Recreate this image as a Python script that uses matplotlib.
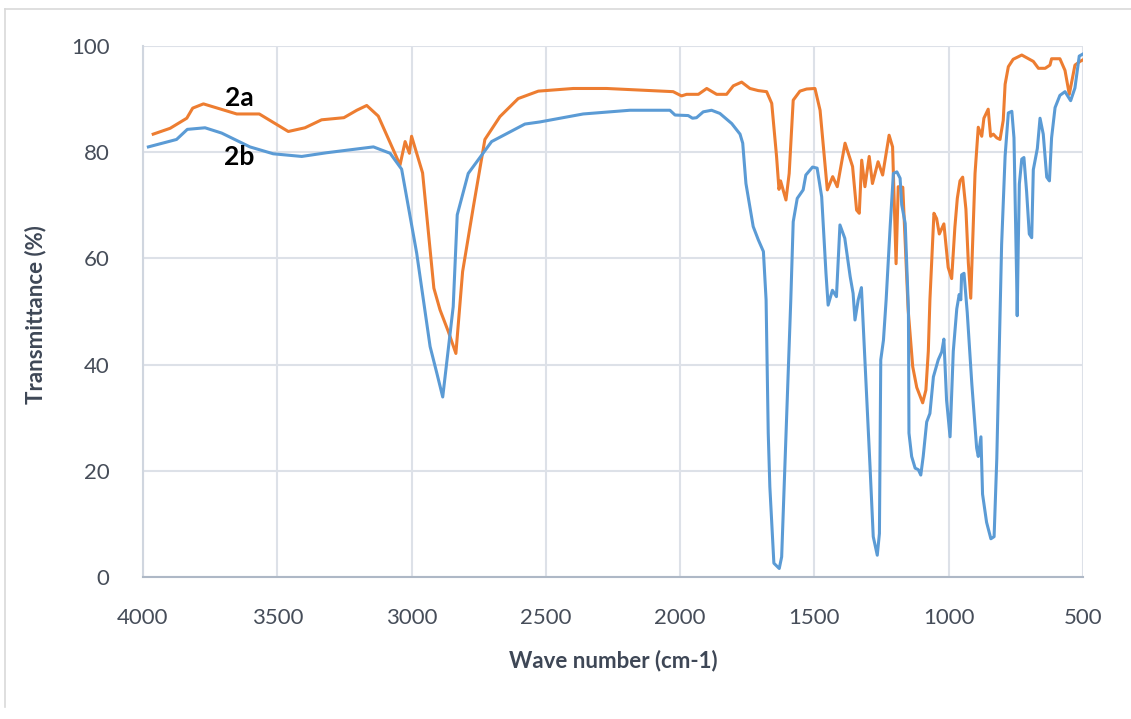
import matplotlib
matplotlib.use('Agg')
import matplotlib.pyplot as plt
from matplotlib.lines import Line2D

# FT-IR spectra (wave number in cm-1, transmittance in %)
wn_2a = [3962, 3899, 3837, 3815, 3775, 3651, 3567, 3459, 3397, 3335, 3252, 3204, 3167, 3124,
         3043, 3024, 3008, 3000, 2959, 2917, 2894, 2863, 2835, 2810, 2770, 2727, 2671, 2603,
         2528, 2398, 2274, 2026, 1995, 1976, 1932, 1901, 1864, 1827, 1802, 1771, 1740, 1709,
         1678, 1659, 1641, 1632, 1626, 1606, 1594, 1579, 1554, 1529, 1498, 1479, 1461, 1452,
         1432, 1415, 1386, 1358, 1343, 1333, 1324, 1312, 1296, 1284, 1263, 1246, 1222, 1209,
         1196, 1188, 1171, 1151, 1134, 1119, 1097, 1085, 1076, 1070, 1055, 1045, 1035, 1018,
         1002, 989, 977, 968, 958, 948, 936, 927, 918, 902, 890, 877, 869, 853, 844, 834, 821,
         809, 797, 790, 778, 760, 728, 685, 666, 641, 623, 617, 586, 567, 551, 530, 511, 500]
t_2a = [83.4, 84.5, 86.4, 88.3, 89.1, 87.2, 87.2, 83.9, 84.6, 86.1, 86.5, 87.9, 88.8, 86.8,
        77.6, 82.0, 79.8, 83.0, 76.1, 54.4, 50.3, 46.2, 42.1, 57.5, 69.7, 82.4, 86.7, 90.1,
        91.5, 92.0, 92.0, 91.4, 90.6, 90.9, 90.9, 92.0, 90.9, 90.9, 92.5, 93.2, 92.0, 91.6,
        91.4, 89.2, 79.2, 73.0, 74.6, 71.0, 76.0, 89.8, 91.5, 91.9, 92.0, 87.9, 77.9, 72.9,
        75.4, 73.5, 81.7, 77.3, 69.1, 68.5, 78.5, 73.5, 79.2, 74.1, 78.2, 75.7, 83.2, 81.0,
        59.0, 73.5, 73.4, 50.3, 39.6, 35.7, 32.8, 35.2, 42.5, 52.2, 68.5, 67.5, 64.6, 66.5,
        58.3, 56.2, 65.9, 71.3, 74.6, 75.3, 69.3, 59.2, 52.5, 76.0, 84.7, 83.0, 86.4, 88.1,
        83.0, 83.4, 82.7, 82.4, 86.0, 92.8, 96.1, 97.5, 98.3, 97.1, 95.8, 95.8, 96.4, 97.6,
        97.6, 95.4, 90.9, 96.4, 97.1, 97.4]

wn_2b = [3980, 3875, 3835, 3769, 3707, 3602, 3515, 3409, 3316, 3142, 3080, 3037, 2981, 2931,
         2906, 2884, 2845, 2830, 2789, 2702, 2578, 2522, 2361, 2187, 2038, 2019, 1970, 1954,
         1939, 1914, 1883, 1852, 1808, 1777, 1767, 1755, 1728, 1709, 1690, 1680, 1672, 1666,
         1651, 1631, 1622, 1610, 1597, 1588, 1579, 1564, 1542, 1532, 1507, 1490, 1473, 1457,
         1449, 1433, 1418, 1405, 1387, 1367, 1356, 1349, 1337, 1325, 1312, 1293, 1281, 1266,
         1258, 1253, 1243, 1233, 1218, 1206, 1193, 1181, 1175, 1162, 1150, 1148, 1138, 1125,
         1113, 1104, 1095, 1082, 1070, 1057, 1039, 1026, 1018, 1008, 995, 983, 970, 961, 955,
         952, 943, 931, 914, 896, 890, 880, 874, 859, 843, 831, 821, 812, 803, 790, 778, 765,
         757, 747, 745, 741, 737, 728, 720, 710, 700, 691, 685, 670, 660, 648, 635, 625, 617,
         604, 586, 567, 546, 530, 514, 500]
t_2b = [81.0, 82.4, 84.3, 84.6, 83.6, 81.0, 79.7, 79.2, 79.9, 81.0, 79.8, 76.8, 61.0, 43.4,
        38.4, 33.9, 50.9, 68.2, 76.0, 82.0, 85.3, 85.7, 87.2, 87.9, 87.9, 87.0, 86.9, 86.4,
        86.5, 87.6, 87.9, 87.3, 85.4, 83.4, 81.7, 74.1, 66.0, 63.5, 61.3, 52.2, 27.1, 17.0,
        2.6, 1.6, 3.8, 20.8, 39.6, 52.2, 66.9, 71.3, 72.9, 75.7, 77.2, 77.0, 71.6, 57.2,
        51.2, 54.0, 52.8, 66.3, 63.8, 56.6, 53.4, 48.4, 52.2, 54.5, 40.9, 20.8, 7.6, 4.1,
        8.2, 40.9, 44.6, 52.2, 66.0, 76.0, 76.3, 75.1, 70.1, 66.6, 50.3, 27.1, 22.7, 20.5,
        20.2, 19.2, 22.7, 29.2, 30.8, 37.7, 40.9, 42.4, 44.8, 33.3, 26.4, 42.5, 50.5, 53.2, 52.2,
        56.9, 57.2, 49.8, 36.4, 24.3, 22.7, 26.4, 15.6, 10.3, 7.2, 7.6, 22.3, 42.5, 62.6, 79.3,
        87.4, 87.7, 82.7, 55.9, 49.2, 62.6, 74.0, 78.7, 79.0, 72.6, 64.6, 63.9, 76.7, 80.7,
        86.4, 83.4, 75.3, 74.6, 82.7, 88.4, 90.7, 91.4, 89.7, 92.1, 98.1, 98.5]

x_ticks = [4000, 3500, 3000, 2500, 2000, 1500, 1000, 500]
y_ticks = [0, 20, 40, 60, 80, 100]

plt.rcParams['font.family'] = ['Lato', 'DejaVu Sans']

fig = plt.figure(figsize=(11.31, 7.19), dpi=100)
ax = fig.add_axes([143 / 1131, 1 - 577 / 719, 940 / 1131, 531 / 719])

ax.plot(wn_2a, t_2a, color='#ED7D31', lw=2.2)
ax.plot(wn_2b, t_2b, color='#5B9BD5', lw=2.2)

ax.set_xlim(4000, 500)
ax.set_ylim(0, 100)
ax.set_xticks(x_ticks)
ax.set_yticks(y_ticks)
ax.grid(True, color='#DDE1E8', lw=1.5)
ax.set_axisbelow(True)

for s in ['top', 'right']:
    ax.spines[s].set_visible(False)
ax.spines['left'].set_color('#D0D6DF')
ax.spines['left'].set_linewidth(1.5)
ax.spines['bottom'].set_color('#AEB8C6')
ax.spines['bottom'].set_linewidth(1.5)

ax.tick_params(length=0, labelsize=16, labelcolor='#464D59')
ax.tick_params(axis='x', pad=22)
ax.tick_params(axis='y', pad=24)

ax.set_xlabel('Wave number (cm-1)', fontsize=16, fontweight='bold', color='#3E4756')
ax.set_ylabel('Transmittance (%)', fontsize=16, fontweight='bold', color='#3E4756')
ax.xaxis.set_label_coords(0.5, -0.136)
ax.yaxis.set_label_coords(-0.103, 0.495)

ax.text(3640, 90.2, '2a', fontsize=19, fontweight='bold', color='black', ha='center', va='center')
ax.text(3640, 79.1, '2b', fontsize=19, fontweight='bold', color='black', ha='center', va='center')

# faint outer chart frame
fig.add_artist(Line2D([5 / 1131, 5 / 1131], [1 - 9 / 719, 1 - 707 / 719],
                      transform=fig.transFigure, color='#D9D9D9', lw=1.2))
fig.add_artist(Line2D([5 / 1131, 1.0], [1 - 9 / 719, 1 - 9 / 719],
                      transform=fig.transFigure, color='#D9D9D9', lw=1.2))

fig.savefig('out.png', dpi=100)
